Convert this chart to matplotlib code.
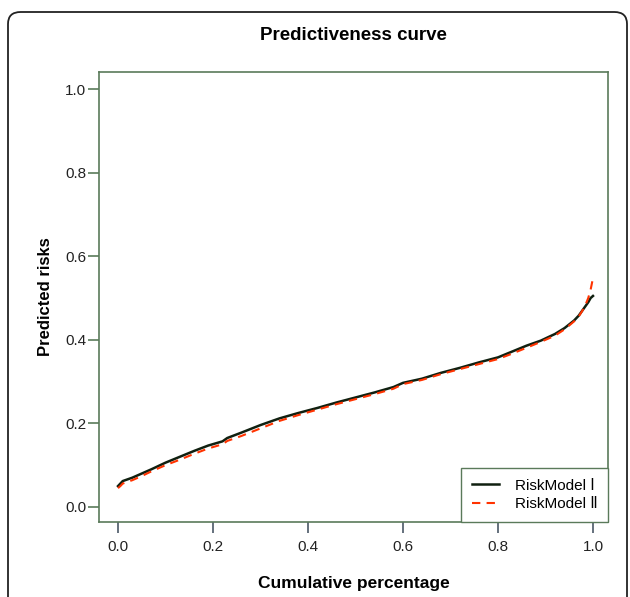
import matplotlib
matplotlib.use("Agg")
import matplotlib.pyplot as plt
from matplotlib.patches import FancyBboxPatch

plt.rcParams['font.family'] = ['Liberation Sans', 'DejaVu Sans']

# cumulative percentage and predicted risks
cum_pct = [0.0, 0.005, 0.01, 0.02, 0.03, 0.05, 0.07, 0.10, 0.13, 0.16, 0.19, 0.22,
           0.23, 0.26, 0.30, 0.34, 0.38, 0.42, 0.46, 0.50, 0.54, 0.58, 0.60, 0.64,
           0.68, 0.72, 0.76, 0.80, 0.83, 0.86, 0.89, 0.92, 0.94, 0.96, 0.97, 0.98,
           0.985, 0.99, 0.995, 1.0]
risk_model1 = [0.050, 0.056, 0.062, 0.066, 0.070, 0.080, 0.090, 0.106, 0.120, 0.134,
               0.147, 0.157, 0.165, 0.178, 0.196, 0.212, 0.225, 0.237, 0.250, 0.262,
               0.274, 0.287, 0.297, 0.307, 0.321, 0.333, 0.346, 0.358, 0.372, 0.386,
               0.398, 0.414, 0.428, 0.446, 0.458, 0.474, 0.482, 0.490, 0.500, 0.505]
risk_model2 = [0.045, 0.050, 0.056, 0.060, 0.064, 0.074, 0.085, 0.100, 0.113, 0.127,
               0.140, 0.150, 0.158, 0.170, 0.188, 0.206, 0.220, 0.233, 0.246, 0.258,
               0.270, 0.283, 0.294, 0.304, 0.318, 0.330, 0.342, 0.354, 0.367, 0.381,
               0.395, 0.410, 0.425, 0.444, 0.456, 0.474, 0.486, 0.500, 0.520, 0.548]

frame_col = '#5a7a5a'

fig = plt.figure(figsize=(6.3, 5.97), dpi=100)

# outer rounded border
border = FancyBboxPatch((8 / 630, -0.05), 619 / 630, 1 - 12 / 597 + 0.05,
                        boxstyle="round,pad=0,rounding_size=0.02",
                        transform=fig.transFigure, fill=False,
                        edgecolor='#222222', linewidth=1.3)
fig.patches.append(border)

ax = fig.add_axes([99 / 630, 1 - 522 / 597, 509 / 630, 450 / 597])
ax.plot(cum_pct, risk_model1, color='#102010', linewidth=1.8, label='RiskModel Ⅰ')
ax.plot(cum_pct, risk_model2, color='#ff3300', linewidth=1.5, linestyle=(0, (4, 3)),
        label='RiskModel Ⅱ')

ax.set_xlim(-0.04, 1.0316)
ax.set_ylim(-0.036, 1.041)
ax.set_xticks([0.0, 0.2, 0.4, 0.6, 0.8, 1.0])
ax.set_yticks([0.0, 0.2, 0.4, 0.6, 0.8, 1.0])
ax.set_xticklabels(['0.0', '0.2', '0.4', '0.6', '0.8', '1.0'])
ax.set_yticklabels(['0.0', '0.2', '0.4', '0.6', '0.8', '1.0'])
for s in ax.spines.values():
    s.set_color(frame_col)
    s.set_linewidth(1.2)
ax.tick_params(axis='y', colors=frame_col, labelcolor='#222222', length=8, width=1.2,
               labelsize=11, pad=1)
ax.tick_params(axis='x', colors='#4a5866', labelcolor='#222222', length=8, width=1.2,
               labelsize=11, pad=5)

ax.set_xlabel('Cumulative percentage', fontsize=12.5, fontweight='bold', labelpad=16)
ax.set_ylabel('Predicted risks', fontsize=12, fontweight='bold', labelpad=9)
fig.text(353 / 630, 1 - 36 / 597, 'Predictiveness curve', ha='center', va='center',
         fontsize=13.5, fontweight='bold')

leg = ax.legend(loc='lower right', bbox_to_anchor=(1.0, 0.0), fancybox=False,
                framealpha=1, edgecolor=frame_col, fontsize=11, borderaxespad=0,
                handlelength=1.8, handletextpad=1.0, labelspacing=0.3, borderpad=0.7)
leg.get_frame().set_linewidth(1.0)

fig.savefig('out.png', dpi=100)
